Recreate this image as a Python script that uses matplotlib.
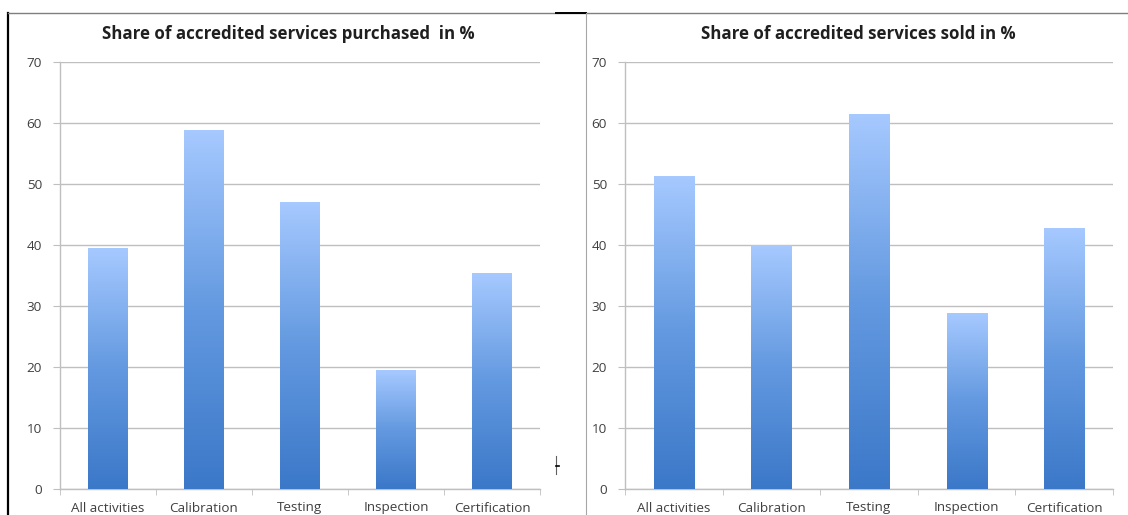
import numpy as np
import matplotlib
matplotlib.use("Agg")
import matplotlib.pyplot as plt
from matplotlib.colors import LinearSegmentedColormap
from matplotlib.lines import Line2D

categories = ["All activities", "Calibration", "Testing", "Inspection", "Certification"]
purchased = [39.5, 58.8, 47.0, 19.5, 35.4]
sold = [51.2, 39.9, 61.4, 28.7, 42.7]
titles = ["Share of accredited services purchased  in %", "Share of accredited services sold in %"]
yticks = [0, 10, 20, 30, 40, 50, 60, 70]

plt.rcParams["font.family"] = ["Open Sans", "DejaVu Sans"]

W, H = 1128, 515
fig = plt.figure(figsize=(W / 100, H / 100), dpi=100)
fig.patch.set_facecolor("white")

bar_cmap = LinearSegmentedColormap.from_list("bar", ["#3b78c8", "#6399e0", "#a6c9ff"])
grad = np.linspace(0, 1, 256).reshape(-1, 1)

GRID = "#bfbfbf"
TXT = "#404040"


def draw_panel(rect, values, title, title_x):
    ax = fig.add_axes(rect)
    x = np.arange(len(categories))
    width = 0.41
    for xi, v in zip(x, values):
        ax.imshow(grad, cmap=bar_cmap, origin="lower", aspect="auto",
                  extent=(xi - width / 2, xi + width / 2, 0, v), zorder=3,
                  interpolation="bilinear")
    ax.set_xlim(-0.5, len(categories) - 0.5)
    ax.set_ylim(0, 70)
    ax.set_yticks(yticks)
    ax.set_yticklabels([str(t) for t in yticks])
    ax.set_xticks(x)
    ax.set_xticklabels(categories)
    ax.set_xticks(np.arange(-0.5, len(categories)), minor=True)
    ax.tick_params(axis="x", which="major", length=0, pad=9, labelsize=9.7, colors=TXT)
    ax.tick_params(axis="x", which="minor", length=4, color=GRID, direction="out")
    ax.tick_params(axis="y", length=5, color=GRID, pad=8, labelsize=9.7, colors=TXT)
    ax.yaxis.grid(True, color=GRID, linewidth=1.0, zorder=0)
    ax.set_axisbelow(True)
    for side in ["top", "right"]:
        ax.spines[side].set_visible(False)
    for side in ["left", "bottom"]:
        ax.spines[side].set_color(GRID)
        ax.spines[side].set_linewidth(1.0)
    fig.text(title_x, 1 - 34 / H, title, ha="center", va="center",
             fontsize=12.2, fontweight="bold", color="#1f1f1f")
    return ax


draw_panel([60 / W, 1 - 489 / H, 480 / W, 427 / H], purchased, titles[0], 288 / W)
draw_panel([625 / W, 1 - 489 / H, 488 / W, 427 / H], sold, titles[1], 858 / W)

# panel frames from the screenshot
fig.add_artist(Line2D([8 / W, 8 / W], [0, 1 - 13 / H], color="black", linewidth=1.6))
fig.add_artist(Line2D([8 / W, 1], [1 - 13 / H, 1 - 13 / H], color="#7f7f7f", linewidth=1.0))
fig.add_artist(Line2D([556 / W, 586 / W], [1 - 13 / H, 1 - 13 / H], color="black", linewidth=1.4))
fig.add_artist(Line2D([586 / W, 586 / W], [0, 1 - 13 / H], color="#a6a6a6", linewidth=0.8))
fig.add_artist(Line2D([556 / W, 556 / W], [1 - 474 / H, 1 - 456 / H], color="#606060", linewidth=0.8))
fig.add_artist(Line2D([556 / W, 559 / W], [1 - 466 / H, 1 - 466 / H], color="black", linewidth=1.2))

fig.savefig("out.png", dpi=100)
